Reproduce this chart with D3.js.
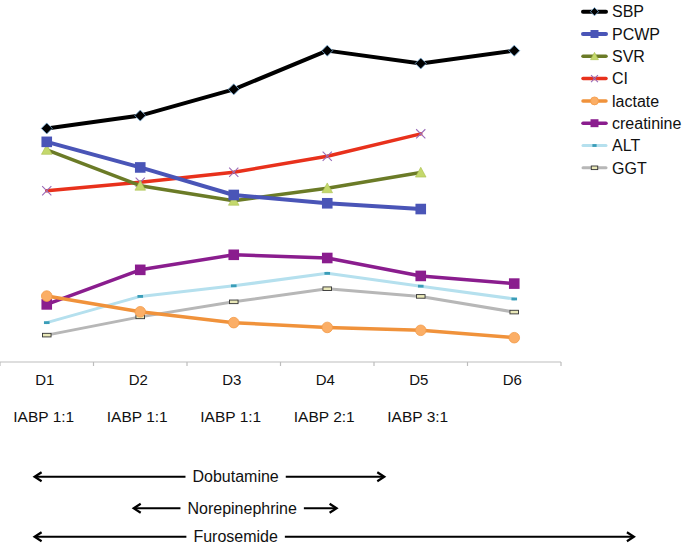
<!DOCTYPE html>
<html>
<head>
<meta charset="utf-8">
<script src="https://cdn.jsdelivr.net/npm/d3@7"></script>
<style>
  html, body { margin: 0; padding: 0; background: #fff; }
  svg { display: block; font-family: "Liberation Sans", Arial, Helvetica, sans-serif; }
</style>
</head>
<body>
<svg id="chart" width="685" height="548"></svg>
<script>
// ---------------- data ----------------
const days = ["D1", "D2", "D3", "D4", "D5", "D6"];
const iabpLabels = ["IABP 1:1", "IABP 1:1", "IABP 1:1", "IABP 2:1", "IABP 3:1", ""];
const seriesNames = ["SBP", "PCWP", "SVR", "CI", "lactate", "creatinine", "ALT", "GGT"];
const sbp        = [73.0, 77.0, 85.2, 97.3, 93.3, 97.3];
const pcwp       = [68.8, 60.8, 52.2, 49.6, 47.8, null];
const svr        = [66.3, 55.1, 50.4, 54.3, 59.2, null];
const ci         = [53.5, 56.2, 59.3, 64.3, 71.3, null];
const lactate    = [20.6, 15.7, 12.3, 10.8, 9.9, 7.6];
const creatinine = [18.0, 28.8, 33.5, 32.5, 26.9, 24.5];
const alt        = [12.3, 20.5, 23.8, 27.7, 23.7, 19.7];
const ggt        = [8.4, 14.1, 18.8, 22.9, 20.5, 15.6];
// drug therapy spans, in day-index units (0 = D1)
const drugNames  = ["Dobutamine", "Norepinephrine", "Furosemide"];
const drugStart  = [-0.13, 0.93, -0.13];
const drugEnd    = [3.61, 3.10, 6.28];
const drugLabelAt = [2.02, 2.09, 2.02];

// ---------------- styles ----------------
const styles = {
  SBP:        { color: "#000000", width: 4,   marker: "diamond" },
  PCWP:       { color: "#4a55b7", width: 4,   marker: "square" },
  SVR:        { color: "#6b7b27", width: 3.5, marker: "triangle" },
  CI:         { color: "#e8311c", width: 3.5, marker: "cross" },
  lactate:    { color: "#f0923b", width: 3.5, marker: "circle" },
  creatinine: { color: "#8a1d8e", width: 3.5, marker: "square" },
  ALT:        { color: "#b5e0ee", width: 3,   marker: "dash" },
  GGT:        { color: "#b7b7b7", width: 3,   marker: "rect" }
};
const valuesBy = { SBP: sbp, PCWP: pcwp, SVR: svr, CI: ci, lactate: lactate,
                   creatinine: creatinine, ALT: alt, GGT: ggt };

const svg = d3.select("#chart");

const x = d3.scaleBand().domain(days).range([0, 561]).padding(0);
const bw = x.bandwidth();
const xc = d => x(d) + bw / 2;
const xIdx = d3.scaleLinear().domain([0, 5]).range([xc(days[0]), xc(days[5])]);
const y = d3.scaleLinear().domain([0, 100]).range([362, 42]);

// ---------------- axis ----------------
const axisG = svg.append("g").attr("transform", "translate(0,362)");
axisG.call(d3.axisBottom(x).tickSize(0).tickPadding(0))
  .call(g => g.select(".domain").remove());
axisG.selectAll(".tick text")
  .attr("font-size", 15).attr("fill", "#111")
  .attr("font-family", "Liberation Sans, Arial, sans-serif")
  .attr("dy", null).attr("y", 23).attr("x", -2);
axisG.append("line").attr("x1", 0).attr("x2", 561).attr("y1", 0).attr("y2", 0)
  .attr("stroke", "#bdbdbd").attr("stroke-width", 1.2);
const bounds = days.map(d => x(d)).concat([x.range()[1]]);
axisG.selectAll(".bound").data(bounds).join("line")
  .attr("x1", d => d).attr("x2", d => d).attr("y1", 0).attr("y2", 4)
  .attr("stroke", "#bdbdbd").attr("stroke-width", 1.2);

// IABP row
svg.append("g").selectAll("text").data(days).join("text")
  .attr("x", d => xc(d) - 3).attr("y", 422)
  .attr("text-anchor", "middle").attr("font-size", 15.5).attr("fill", "#111")
  .text((d, i) => iabpLabels[i]);

// ---------------- lines ----------------
const line = d3.line()
  .defined(d => d.v != null)
  .x(d => xc(d.day)).y(d => y(d.v));

function drawMarker(g, type, cx, cy, s, color) {
  // s = scale factor
  if (type === "diamond") {
    const r = 5.5 * s;
    g.append("path").attr("d", `M${cx},${cy - r}L${cx + r},${cy}L${cx},${cy + r}L${cx - r},${cy}Z`)
      .attr("fill", "#000").attr("stroke", "#7fb3dc").attr("stroke-width", 0.8);
  } else if (type === "square") {
    const h = 5.3 * s;
    g.append("rect").attr("x", cx - h).attr("y", cy - h).attr("width", 2 * h).attr("height", 2 * h)
      .attr("fill", color);
  } else if (type === "triangle") {
    const h = 5.3 * s;
    g.append("path").attr("d", `M${cx},${cy - h}L${cx + h},${cy + h * 0.85}L${cx - h},${cy + h * 0.85}Z`)
      .attr("fill", "#c4d86c").attr("stroke", "#a9bf4f").attr("stroke-width", 0.6);
  } else if (type === "cross") {
    const h = 4.6 * s;
    g.append("path").attr("d", `M${cx - h},${cy - h}L${cx + h},${cy + h}M${cx - h},${cy + h}L${cx + h},${cy - h}`)
      .attr("stroke", "#9a6cb8").attr("stroke-width", 1.1).attr("fill", "none");
  } else if (type === "circle") {
    g.append("circle").attr("cx", cx).attr("cy", cy).attr("r", 5.3 * s)
      .attr("fill", "#fbae66").attr("stroke", "#f29a48").attr("stroke-width", 0.8);
  } else if (type === "dash") {
    g.append("rect").attr("x", cx - 2.8 * s).attr("y", cy - 1.4).attr("width", 5.6 * s).attr("height", 2.8)
      .attr("fill", "#3a9db8");
  } else if (type === "rect") {
    g.append("rect").attr("x", cx - 4.3 * s).attr("y", cy - 1.8).attr("width", 8.6 * s).attr("height", 3.6)
      .attr("fill", "#e9e8b8").attr("stroke", "#333").attr("stroke-width", 0.9);
  }
}

const plot = svg.append("g");
// draw in reverse order so SBP is on top
seriesNames.slice().reverse().forEach(name => {
  const st = styles[name];
  const data = days.map((d, i) => ({ day: d, v: valuesBy[name][i] }));
  const g = plot.append("g");
  g.append("path").datum(data).attr("d", line)
    .attr("fill", "none").attr("stroke", st.color).attr("stroke-width", st.width)
    .attr("stroke-linejoin", "round").attr("stroke-linecap", "round");
  data.filter(d => d.v != null).forEach(d => drawMarker(g, st.marker, xc(d.day), y(d.v), 1, st.color));
});

// ---------------- legend ----------------
const legend = svg.append("g");
seriesNames.forEach((name, i) => {
  const st = styles[name];
  const cy = 11.7 + i * 22.3;
  const g = legend.append("g");
  g.append("line").attr("x1", 583).attr("x2", 606).attr("y1", cy).attr("y2", cy)
    .attr("stroke", st.color).attr("stroke-width", st.width).attr("stroke-linecap", "round");
  drawMarker(g, st.marker, 594.5, cy, 0.75, st.color);
  g.append("text").attr("x", 612).attr("y", cy).attr("dy", "0.36em")
    .attr("font-size", 16).attr("fill", "#111").text(name);
});

// ---------------- drug arrows ----------------
const rowY = [476.7, 508.3, 536.7];
const arrows = svg.append("g");
function head(g, tipX, cy, dir) {
  g.append("path")
    .attr("d", `M${tipX - dir * 7},${cy - 4.5}L${tipX},${cy}L${tipX - dir * 7},${cy + 4.5}`)
    .attr("fill", "none").attr("stroke", "#000").attr("stroke-width", 2.2)
    .attr("stroke-linejoin", "miter");
}
drugNames.forEach((name, i) => {
  const cy = rowY[i];
  const g = arrows.append("g");
  const t = g.append("text").attr("x", xIdx(drugLabelAt[i])).attr("y", cy).attr("dy", "0.36em")
    .attr("text-anchor", "middle").attr("font-size", 16).attr("fill", "#111").text(name);
  const w = t.node().getComputedTextLength();
  const tx = xIdx(drugLabelAt[i]);
  const x0 = xIdx(drugStart[i]), x1 = xIdx(drugEnd[i]);
  g.append("line").attr("x1", x0 + 1).attr("x2", tx - w / 2 - 7).attr("y1", cy).attr("y2", cy)
    .attr("stroke", "#000").attr("stroke-width", 2);
  g.append("line").attr("x1", tx + w / 2 + 7).attr("x2", x1 - 1).attr("y1", cy).attr("y2", cy)
    .attr("stroke", "#000").attr("stroke-width", 2);
  head(g, x0, cy, -1);
  head(g, x1, cy, 1);
});
</script>
</body>
</html>
